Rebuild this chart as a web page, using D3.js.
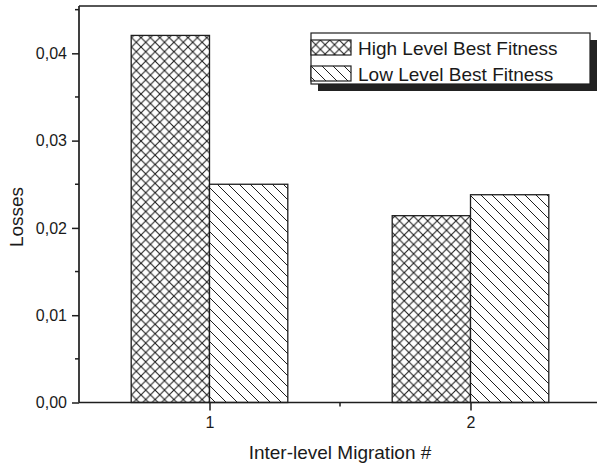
<!DOCTYPE html>
<html>
<head>
<meta charset="utf-8">
<script src="https://cdn.jsdelivr.net/npm/d3@7"></script>
<style>
  body { margin: 0; background: #fff; }
  text { font-family: Arial, "Liberation Sans", sans-serif; fill: #1a1a1a; }
</style>
</head>
<body>
<div id="chart"></div>
<script>
// chart data
var categories = [1, 2];
var seriesNames = ["High Level Best Fitness", "Low Level Best Fitness"];
var highLevel = [0.04205, 0.0214];
var lowLevel = [0.0250, 0.0238];
var yTicks = [0, 0.01, 0.02, 0.03, 0.04];

var width = 597, height = 465;
var ink = "#1e1e1e";

var svg = d3.select("#chart").append("svg")
    .attr("width", width)
    .attr("height", height);

// hatch patterns
var defs = svg.append("defs");
var cw = 9.4;
var cross = defs.append("pattern")
    .attr("id", "cross")
    .attr("patternUnits", "userSpaceOnUse")
    .attr("width", cw).attr("height", cw);
cross.append("rect").attr("width", cw).attr("height", cw).attr("fill", "#fff");
cross.append("path")
    .attr("d", "M0,0L" + cw + "," + cw + "M" + cw + ",0L0," + cw)
    .attr("stroke", ink).attr("stroke-width", 1.1);

var diag = defs.append("pattern")
    .attr("id", "diag")
    .attr("patternUnits", "userSpaceOnUse")
    .attr("width", 11).attr("height", 11);
diag.append("rect").attr("width", 11).attr("height", 11).attr("fill", "#fff");
diag.append("path")
    .attr("d", "M0,0L11,11M-2,9L2,13M9,-2L13,2")
    .attr("stroke", ink).attr("stroke-width", 1);

var fills = ["url(#cross)", "url(#diag)"];

//scales
var x = d3.scaleLinear().domain([0.5, 2.5]).range([79, 601]);
var y = d3.scaleLinear().domain([0, 0.04542]).range([402.5, 6]);
var barW = 0.3;

var locale = d3.formatLocale({decimal: ",", thousands: ".", grouping: [3], currency: ["", ""]});
var fmt = locale.format(".2f");

// bars
var series = [highLevel, lowLevel];
series.forEach((vals, s) => {
    svg.selectAll("rect.s" + s)
        .data(categories)
        .enter()
        .append("rect")
        .attr("class", "s" + s)
        .attr("x", (d) => s == 0 ? x(d - barW) : x(d))
        .attr("width", x(barW) - x(0))
        .attr("y", (d, i) => y(vals[i]))
        .attr("height", (d, i) => y(0) - y(vals[i]))
        .attr("fill", fills[s])
        .attr("stroke", ink)
        .attr("stroke-width", 1.3);
});

// y axis
var yAxis = d3.axisLeft(y)
    .tickValues(yTicks)
    .tickFormat(fmt)
    .tickSize(7)
    .tickPadding(5);
var gy = svg.append("g")
    .attr("transform", "translate(" + x(0.5) + ",0)")
    .call(yAxis);
gy.select(".domain").remove();
gy.selectAll("line").attr("stroke", ink).attr("stroke-width", 1.5);
gy.selectAll("text").style("font-size", "16px");
// minor y ticks
gy.selectAll("line.minor")
    .data([0.005, 0.015, 0.025, 0.035, 0.045])
    .enter()
    .append("line")
    .attr("x1", -4).attr("x2", 0)
    .attr("y1", (d) => y(d)).attr("y2", (d) => y(d))
    .attr("stroke", ink).attr("stroke-width", 1.5);

// x axis
var xAxis = d3.axisBottom(x)
    .tickValues(categories)
    .tickFormat(d3.format("d"))
    .tickSize(8)
    .tickPadding(6);
var gx = svg.append("g")
    .attr("transform", "translate(0," + y(0) + ")")
    .call(xAxis);
gx.select(".domain").remove();
gx.selectAll("line").attr("stroke", ink).attr("stroke-width", 1.5);
gx.selectAll("text").style("font-size", "16px");
gx.selectAll("line.minor")
    .data([1.5])
    .enter()
    .append("line")
    .attr("x1", (d) => x(d)).attr("x2", (d) => x(d))
    .attr("y1", 0).attr("y2", 4)
    .attr("stroke", ink).attr("stroke-width", 1.5);

// frame lines
svg.append("line")
    .attr("x1", x(0.5)).attr("x2", width)
    .attr("y1", y(0)).attr("y2", y(0))
    .attr("stroke", ink).attr("stroke-width", 1.7);
svg.append("line")
    .attr("x1", x(0.5)).attr("x2", x(0.5))
    .attr("y1", y(0)).attr("y2", y.range()[1])
    .attr("stroke", ink).attr("stroke-width", 1.7);
svg.append("line")
    .attr("x1", x(0.5)).attr("x2", width)
    .attr("y1", y.range()[1]).attr("y2", y.range()[1])
    .attr("stroke", ink).attr("stroke-width", 1.7);

// axis titles
svg.append("text")
    .attr("transform", "translate(23,217) rotate(-90)")
    .attr("text-anchor", "middle")
    .style("font-size", "19px")
    .text("Losses");
svg.append("text")
    .attr("x", 340).attr("y", 459)
    .attr("text-anchor", "middle")
    .style("font-size", "19px")
    .text("Inter-level Migration #");

// legend
var lg = svg.append("g").attr("transform", "translate(311,33)");
lg.append("rect")
    .attr("x", 7).attr("y", 7)
    .attr("width", 279).attr("height", 51)
    .attr("fill", "#222");
lg.append("rect")
    .attr("width", 279).attr("height", 51)
    .attr("fill", "#fff")
    .attr("stroke", ink).attr("stroke-width", 1.2);
seriesNames.forEach((name, i) => {
    let row = lg.append("g").attr("transform", "translate(0," + (7 + i * 26) + ")");
    row.append("rect")
        .attr("width", 40).attr("height", 15)
        .attr("fill", fills[i])
        .attr("stroke", ink).attr("stroke-width", 1.2);
    row.append("text")
        .attr("x", 47).attr("y", 15)
        .style("font-size", "19px")
        .text(name);
});
</script>
</body>
</html>
